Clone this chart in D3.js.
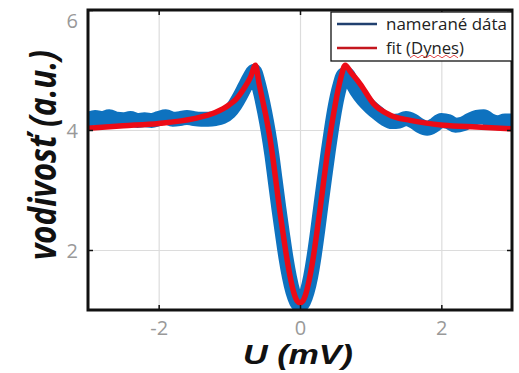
<!DOCTYPE html>
<html><head><meta charset="utf-8">
<script src="https://cdn.jsdelivr.net/npm/d3@7"></script>
<style>
html,body{margin:0;padding:0;background:#fff;}
svg{display:block;}
</style></head>
<body>
<svg id="chart" width="519" height="373"></svg>
<script>
// ---- data ----
const xTicks = [-2, 0, 2];
const yTicks = [2, 4, 6];
const seriesNames = ["nameran\u00e9 d\u00e1ta", "fit (Dynes)"];

const dataX = [-3.0,-2.9,-2.8,-2.7,-2.6,-2.5,-2.4,-2.3,-2.2,-2.1,-2.0,-1.9,-1.8,-1.7,-1.6,-1.5,-1.4,-1.3,-1.2,-1.1,-1.0,-0.92,-0.85,-0.78,-0.7,-0.65,-0.6,-0.55,-0.5,-0.45,-0.4,-0.35,-0.3,-0.25,-0.2,-0.15,-0.1,-0.05,0,0.05,0.1,0.15,0.2,0.25,0.3,0.35,0.4,0.45,0.5,0.56,0.62,0.66,0.72,0.8,0.9,1.0,1.1,1.2,1.3,1.4,1.5,1.6,1.7,1.8,1.9,2.0,2.1,2.2,2.3,2.4,2.5,2.6,2.7,2.8,2.9,3.0];
const dataY = [4.17,4.21,4.19,4.22,4.18,4.17,4.19,4.16,4.17,4.16,4.19,4.22,4.18,4.19,4.21,4.19,4.18,4.18,4.19,4.22,4.30,4.42,4.56,4.72,4.90,4.98,4.82,4.58,4.30,3.98,3.60,3.15,2.70,2.28,1.88,1.55,1.30,1.14,1.08,1.14,1.30,1.55,1.90,2.32,2.78,3.22,3.65,4.05,4.40,4.72,4.92,4.93,4.82,4.66,4.50,4.38,4.28,4.19,4.14,4.15,4.19,4.15,4.07,4.03,4.08,4.16,4.14,4.08,4.10,4.16,4.21,4.22,4.15,4.12,4.15,4.15];

const fitX = [-3.0,-2.5,-2.0,-1.5,-1.2,-1.0,-0.9,-0.8,-0.7,-0.63,-0.58,-0.53,-0.48,-0.43,-0.38,-0.33,-0.28,-0.23,-0.18,-0.13,-0.08,-0.04,0,0.04,0.08,0.13,0.18,0.23,0.28,0.33,0.38,0.43,0.48,0.53,0.58,0.64,0.72,0.85,1.04,1.27,1.56,2.03,2.5,3.0];
const fitY = [4.03,4.07,4.11,4.19,4.29,4.42,4.52,4.68,4.88,5.08,4.78,4.50,4.22,3.90,3.50,3.05,2.60,2.20,1.82,1.50,1.26,1.15,1.12,1.15,1.26,1.50,1.82,2.22,2.65,3.10,3.55,3.95,4.30,4.62,4.88,5.08,4.96,4.77,4.44,4.25,4.16,4.08,4.05,4.02];

// ---- layout ----
const svg = d3.select("#chart");
const M = {left: 88, top: 10, right: 7, bottom: 63};
const W = 519 - M.left - M.right, H = 373 - M.top - M.bottom;
const x = d3.scaleLinear().domain([-3, 3]).range([0, W]);
const y = d3.scaleLinear().domain([1, 6]).range([H, 0]);
const g = svg.append("g").attr("transform", `translate(${M.left},${M.top})`);
const fmt = d => String(d);

// grid
g.append("g").attr("transform", `translate(0,${H})`)
  .call(d3.axisBottom(x).tickValues(xTicks).tickSize(-H).tickFormat(""))
  .call(a => { a.select(".domain").remove(); a.selectAll("line").attr("stroke", "#dcdcdc").attr("stroke-width", 1.2); });
g.append("g")
  .call(d3.axisLeft(y).tickValues(yTicks).tickSize(-W).tickFormat(""))
  .call(a => { a.select(".domain").remove(); a.selectAll("line").attr("stroke", "#dcdcdc").attr("stroke-width", 1.2); });

// curves
svg.append("clipPath").attr("id", "clip").append("rect").attr("width", W).attr("height", H);
const plot = g.append("g").attr("clip-path", "url(#clip)");
const line = d3.line().x(d => x(d[0])).y(d => y(d[1])).curve(d3.curveMonotoneX);
plot.append("path").datum(d3.zip(dataX, dataY)).attr("d", line)
  .attr("fill", "none").attr("stroke", "#0e72bf").attr("stroke-width", 15)
  .attr("stroke-linejoin", "round").attr("stroke-linecap", "round");
plot.append("path").datum(d3.zip(fitX, fitY)).attr("d", line)
  .attr("fill", "none").attr("stroke", "#ec0a16").attr("stroke-width", 5.5)
  .attr("stroke-linejoin", "round").attr("stroke-linecap", "round");

// inward tick marks on all four sides
const tickStyle = a => { a.select(".domain").remove(); a.selectAll("line").attr("stroke", "#111").attr("stroke-width", 1.5); a.selectAll("text").remove(); };
g.append("g").attr("transform", `translate(0,${H})`).call(d3.axisBottom(x).tickValues(xTicks).tickSize(-5)).call(tickStyle);
g.append("g").call(d3.axisTop(x).tickValues(xTicks).tickSize(-5)).call(tickStyle);
g.append("g").call(d3.axisLeft(y).tickValues(yTicks).tickSize(-5)).call(tickStyle);
g.append("g").attr("transform", `translate(${W},0)`).call(d3.axisRight(y).tickValues(yTicks).tickSize(-5)).call(tickStyle);

// tick labels
const labStyle = a => {
  a.select(".domain").remove(); a.selectAll("line").remove();
  a.selectAll("text").attr("font-family", "'Open Sans', sans-serif").attr("font-size", 20).attr("fill", "#999");
};
g.append("g").attr("transform", `translate(0,${H})`)
  .call(d3.axisBottom(x).tickValues(xTicks).tickSize(0).tickPadding(0).tickFormat(fmt))
  .call(labStyle)
  .call(a => a.selectAll("text").attr("y", 24.5).attr("dy", null));
g.append("g")
  .call(d3.axisLeft(y).tickValues(yTicks).tickSize(0).tickPadding(10).tickFormat(fmt))
  .call(labStyle)
  .call(a => a.selectAll("text").attr("dy", d => d === 6 ? "0.85em" : "0.35em"));

// frame
g.append("rect").attr("width", W).attr("height", H).attr("fill", "none").attr("stroke", "#111").attr("stroke-width", 3);

// axis titles
svg.append("text").text("U (mV)")
  .attr("x", 298).attr("y", 364).attr("text-anchor", "middle")
  .attr("font-family", "'Liberation Sans', sans-serif").attr("font-weight", 700).attr("font-style", "italic")
  .attr("font-size", 28).attr("fill", "#111")
  .attr("textLength", 110).attr("lengthAdjust", "spacingAndGlyphs");
svg.append("text").text("vodivos\u0165 (a.u.)")
  .attr("transform", "translate(56,155) rotate(-90)").attr("text-anchor", "middle")
  .attr("font-family", "'Open Sans', sans-serif").attr("font-weight", 700).attr("font-style", "italic")
  .attr("font-size", 37).attr("fill", "#111")
  .attr("textLength", 210).attr("lengthAdjust", "spacingAndGlyphs");

// legend
const lg = svg.append("g").attr("transform", "translate(331,12)");
lg.append("rect").attr("width", 181).attr("height", 49).attr("fill", "#fff").attr("stroke", "#111").attr("stroke-width", 1.3);
const legColors = ["#21406f", "#c4161e"];
const legLen = [121, 78];
seriesNames.forEach((name, i) => {
  const yy = 12 + i * 24;
  lg.append("line").attr("x1", 6).attr("x2", 46).attr("y1", yy).attr("y2", yy)
    .attr("stroke", legColors[i]).attr("stroke-width", 2.5);
  lg.append("text").text(name).attr("x", 55).attr("y", yy + 5.5)
    .attr("font-family", "'Open Sans', sans-serif").attr("font-size", 16.5).attr("fill", "#222")
    .attr("textLength", legLen[i]).attr("lengthAdjust", "spacingAndGlyphs");
});
// spell-check wavy underline under "Dynes"
const wave = d3.range(0, 13).map(i => [79 + i * 4, 44.5 + (i % 2 ? -1.3 : 1.3)]);
lg.append("path").attr("d", d3.line()(wave)).attr("fill", "none").attr("stroke", "#e03a3a").attr("stroke-width", 0.9);
</script>
</body></html>
